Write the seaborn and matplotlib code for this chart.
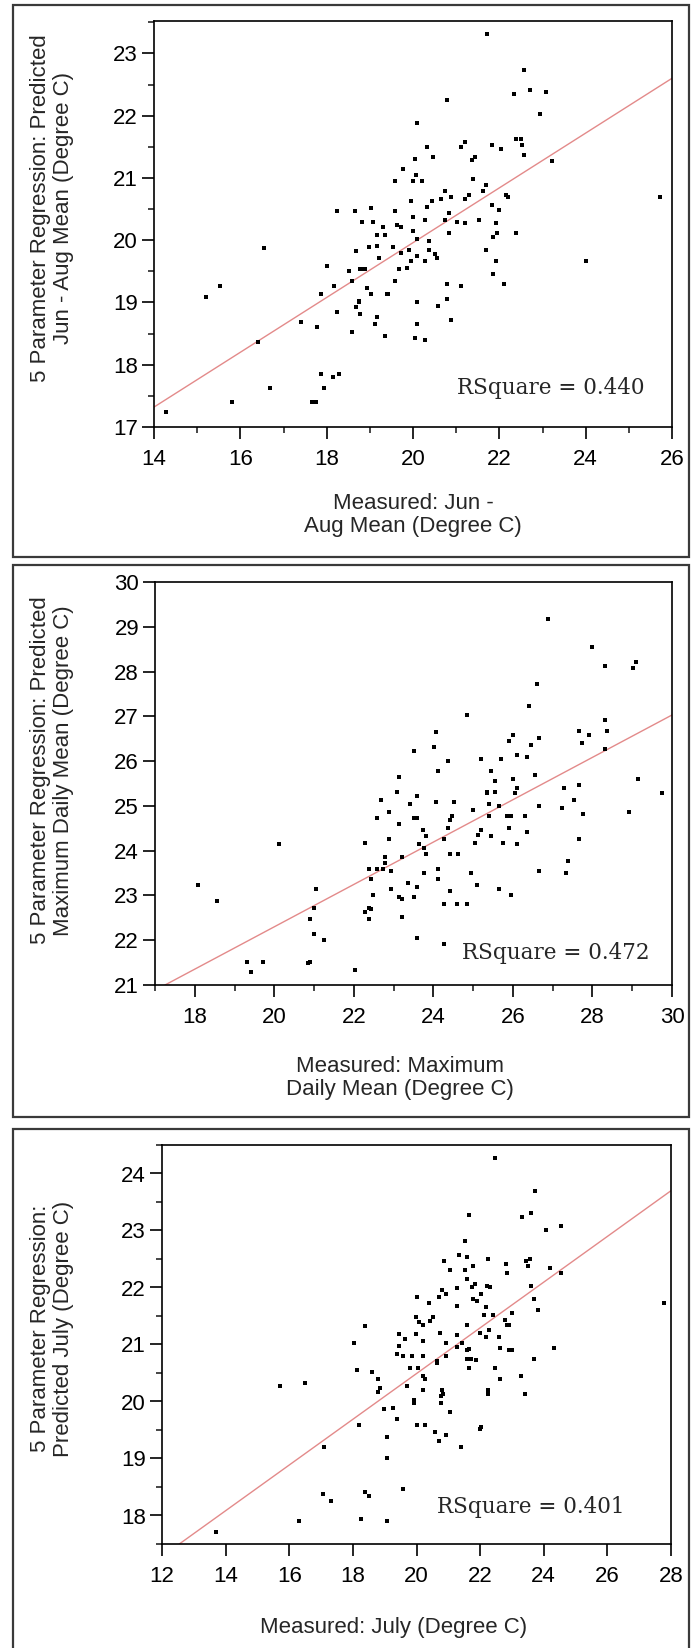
import pandas as pd
import matplotlib.pyplot as plt
import matplotlib.patches as patches
from matplotlib.ticker import MultipleLocator
import seaborn as sns

# ---- Panel 1: Jun - Aug mean ----
jja_measured = [
    14.27, 15.20, 15.53, 16.55, 15.81, 16.42, 16.69, 17.40, 17.77, 17.86, 18.00, 17.67,
    17.76, 17.86, 17.94, 18.14, 18.28, 18.18, 18.23, 18.23, 18.51, 18.59, 18.59, 18.65,
    18.69, 18.69, 18.74, 18.74, 18.78, 18.77, 18.83, 18.89, 18.83, 18.93, 18.98, 19.02,
    19.02, 19.07, 19.12, 19.16, 19.16, 19.16, 19.21, 19.30, 19.35, 19.35, 19.39, 19.43,
    19.54, 19.58, 19.58, 19.58, 19.63, 19.72, 19.67, 19.72, 19.77, 19.86, 19.91, 19.96,
    19.96, 20.00, 20.00, 20.00, 20.05, 20.05, 20.08, 20.10, 20.10, 20.10, 20.10, 20.10,
    20.20, 20.33, 20.47, 20.27, 20.33, 20.43, 20.28, 20.37, 20.37, 20.50, 20.56, 20.28,
    20.57, 20.79, 20.79, 20.88, 21.11, 20.79, 20.65, 20.74, 20.88, 20.74, 20.83, 20.83,
    21.02, 21.20, 21.20, 21.30, 21.11, 21.20, 21.36, 21.43, 21.39, 21.53, 21.62, 21.68,
    21.68, 21.72, 21.82, 21.82, 22.00, 21.92, 21.95, 21.86, 21.92, 21.86, 22.10, 22.15,
    22.19, 22.05, 22.33, 22.38, 22.38, 22.51, 22.53, 22.57, 22.57, 22.71, 23.08, 22.94,
    23.22, 24.01, 25.73]
jja_predicted = [
    17.24, 19.08, 19.27, 19.88, 17.40, 18.37, 17.62, 18.69, 18.60, 19.14, 19.59, 17.40,
    17.40, 17.85, 17.62, 17.81, 17.85, 19.27, 18.85, 20.47, 19.50, 19.34, 18.53, 20.47,
    19.82, 18.92, 19.00, 19.03, 18.82, 19.53, 19.53, 19.53, 20.30, 19.24, 19.89, 20.51,
    19.14, 20.30, 18.66, 18.76, 20.08, 19.91, 19.72, 20.21, 20.08, 18.46, 19.14, 19.14,
    19.89, 20.47, 20.95, 19.34, 20.24, 20.21, 19.53, 19.79, 21.15, 19.56, 19.85, 20.63,
    19.66, 20.37, 20.95, 20.14, 21.31, 18.43, 21.05, 19.00, 19.75, 20.02, 21.88, 18.66,
    20.95, 21.50, 21.34, 20.33, 20.54, 20.63, 19.66, 19.98, 19.85, 19.78, 19.72, 18.40,
    18.94, 19.30, 19.05, 18.72, 19.27, 22.25, 20.66, 20.79, 20.70, 20.33, 20.43, 20.11,
    20.30, 20.27, 20.66, 20.72, 21.50, 21.57, 21.28, 21.34, 20.98, 20.33, 20.79, 20.88,
    19.85, 23.31, 21.53, 20.56, 20.49, 20.27, 20.11, 20.05, 19.66, 19.46, 19.30, 20.72,
    20.70, 21.47, 22.35, 20.11, 21.63, 21.63, 21.53, 21.37, 22.73, 22.41, 22.38, 22.02,
    21.27, 19.66, 20.70]
jja_fit = (11.16, 0.440)  # intercept, slope

# ---- Panel 2: maximum daily mean ----
max_measured = [
    18.09, 18.55, 19.31, 19.72, 19.41, 20.13, 20.90, 20.84, 20.90, 21.00, 21.00, 21.05,
    21.26, 22.03, 22.28, 22.28, 22.38, 22.43, 22.38, 22.38, 22.43, 22.48, 22.58, 22.74,
    22.58, 22.68, 22.78, 22.78, 22.89, 22.89, 22.94, 22.94, 23.09, 23.14, 23.14, 23.14,
    23.20, 23.20, 23.20, 23.35, 23.40, 23.50, 23.58, 23.51, 23.50, 23.60, 23.60, 23.60,
    23.65, 24.02, 24.07, 24.12, 24.07, 23.75, 23.82, 23.76, 23.81, 23.76, 24.12, 24.12,
    24.27, 24.27, 24.59, 24.84, 24.27, 24.37, 24.37, 24.41, 24.48, 24.52, 24.43, 24.63,
    24.43, 24.84, 24.94, 24.99, 25.05, 25.10, 25.13, 25.19, 25.19, 25.34, 25.36, 25.39,
    25.39, 25.44, 25.44, 25.55, 25.55, 25.66, 25.66, 25.70, 25.76, 25.84, 25.94, 25.90,
    25.90, 25.95, 26.00, 26.00, 26.06, 26.10, 26.10, 26.10, 26.30, 26.35, 26.35, 26.41,
    26.46, 26.56, 26.61, 26.66, 26.66, 26.66, 26.89, 27.24, 27.29, 27.39, 27.34, 27.54,
    27.65, 27.65, 27.65, 27.74, 27.75, 27.91, 28.00, 28.32, 28.32, 28.37, 28.32, 28.93,
    29.03, 29.09, 29.14, 29.75]
max_predicted = [
    23.23, 22.88, 21.51, 21.51, 21.28, 24.14, 21.52, 21.49, 22.47, 22.15, 22.73, 23.14,
    22.01, 21.33, 24.18, 22.64, 22.73, 22.69, 22.47, 23.60, 23.37, 23.01, 23.60, 23.60,
    24.73, 25.14, 23.86, 23.73, 24.86, 24.27, 23.55, 23.14, 25.32, 25.64, 24.59, 22.96,
    22.92, 23.86, 22.51, 23.28, 25.05, 24.73, 24.73, 26.23, 22.96, 25.23, 23.19, 22.06,
    24.14, 26.32, 26.64, 25.78, 25.09, 24.46, 24.33, 24.05, 23.92, 23.51, 23.60, 23.37,
    24.27, 22.82, 22.82, 22.82, 21.92, 24.50, 26.00, 24.68, 24.78, 25.09, 23.92, 23.92,
    23.10, 27.04, 23.51, 24.90, 24.18, 23.23, 24.36, 24.46, 26.04, 25.32, 25.29, 25.05,
    24.78, 25.78, 24.33, 25.55, 25.32, 25.00, 23.14, 26.04, 24.18, 24.78, 24.78, 24.50,
    26.45, 23.01, 25.60, 26.59, 25.28, 25.41, 26.13, 24.14, 24.78, 26.09, 24.42, 27.23,
    26.36, 25.69, 27.73, 25.00, 26.51, 23.55, 29.17, 24.96, 25.41, 23.78, 23.51, 25.14,
    26.68, 25.46, 24.27, 26.41, 24.82, 26.59, 28.54, 26.91, 28.13, 26.68, 26.28, 24.87,
    28.08, 28.22, 25.59, 25.28]
max_fit = (12.84, 0.473)

# ---- Panel 3: July ----
jul_measured = [
    13.71, 15.70, 16.51, 16.31, 17.10, 17.05, 17.32, 18.05, 18.12, 18.19, 18.24, 18.38,
    18.52, 18.39, 18.59, 18.79, 18.85, 18.79, 18.99, 19.06, 19.06, 19.06, 19.26, 19.39,
    19.39, 19.45, 19.45, 19.59, 19.65, 19.59, 19.85, 19.71, 19.78, 19.99, 19.99, 20.03,
    19.92, 19.92, 20.03, 20.06, 20.09, 22.47, 23.73, 21.66, 23.33, 23.60, 24.07, 24.54,
    21.53, 20.87, 21.34, 21.60, 21.06, 21.53, 21.79, 22.26, 22.80, 22.86, 23.44, 23.57,
    23.50, 24.21, 24.54, 21.60, 21.74, 21.84, 22.23, 22.32, 23.59, 20.80, 20.93, 20.72,
    21.27, 21.77, 21.90, 22.04, 20.39, 21.28, 22.19, 22.12, 22.40, 22.99, 23.68, 23.81,
    27.77, 20.22, 20.43, 20.51, 21.60, 22.78, 22.84, 22.92, 20.19, 20.74, 20.93, 21.27,
    21.27, 21.42, 22.00, 22.20, 22.28, 22.60, 22.64, 22.92, 22.99, 24.33, 20.19, 20.66,
    20.66, 20.92, 21.60, 21.66, 21.60, 21.71, 21.87, 21.66, 22.47, 22.61, 23.28, 23.68,
    20.19, 20.27, 20.19, 20.80, 20.82, 20.77, 20.77, 21.04, 22.25, 22.25, 23.40, 20.27,
    20.59, 20.72, 20.93, 21.40, 21.99, 22.04]
jul_predicted = [
    17.71, 20.28, 20.32, 17.91, 19.20, 18.38, 18.26, 21.02, 20.55, 19.58, 17.94, 18.41,
    18.34, 21.33, 20.52, 20.39, 20.24, 20.17, 19.86, 19.38, 19.00, 17.91, 19.89, 20.83,
    19.70, 20.98, 21.18, 18.46, 21.10, 20.79, 20.79, 20.28, 20.59, 21.18, 21.49, 21.84,
    20.03, 19.98, 19.58, 20.59, 21.40, 24.28, 23.70, 23.27, 23.23, 23.31, 23.00, 23.08,
    22.81, 22.46, 22.57, 22.53, 22.31, 22.31, 22.38, 22.50, 22.42, 22.26, 22.47, 22.50,
    22.38, 22.34, 22.26, 22.15, 22.01, 22.06, 22.03, 22.00, 22.03, 21.96, 21.88, 21.84,
    21.99, 21.80, 21.77, 21.88, 21.72, 21.68, 21.65, 21.52, 21.52, 21.56, 21.80, 21.61,
    21.72, 21.35, 21.41, 21.49, 21.34, 21.43, 21.34, 21.34, 21.06, 21.21, 21.02, 21.17,
    20.95, 21.02, 21.21, 21.14, 21.25, 21.14, 20.94, 20.90, 20.90, 20.94, 20.79, 20.68,
    20.71, 20.79, 20.90, 20.92, 20.75, 20.75, 20.72, 20.59, 20.59, 20.39, 20.44, 20.75,
    20.44, 20.39, 20.20, 20.21, 20.14, 20.10, 19.97, 19.82, 20.20, 20.13, 20.13, 19.58,
    19.47, 19.31, 19.42, 19.20, 19.51, 19.55]
jul_fit = (12.47, 0.401)

rsquare = ['0.440', '0.472', '0.401']

sns.set_style('ticks')
plt.rcParams['font.family'] = ['Liberation Sans', 'DejaVu Sans']

W, H = 691, 1648
fig = plt.figure(figsize=(W / 100, H / 100), dpi=100)

# outer frames around each panel (pixel boxes: left, top, right, bottom)
for l, t, r, b in [(13, 5, 689, 557), (13, 565, 689, 1117), (13, 1129, 689, 1660)]:
    fig.add_artist(patches.Rectangle((l / W, 1 - b / H), (r - l) / W, (b - t) / H,
                                     transform=fig.transFigure, fill=False,
                                     edgecolor='#3a3a3a', linewidth=1.6))

panels = [
    dict(x=jja_measured, y=jja_predicted, fit=jja_fit, r2=rsquare[0],
         box=(154, 21, 672, 427), xlim=(14, 26), ylim=(17, 23.52),
         xmaj=2, xmin=1, ymaj=1, ymin=0.5,
         ylabel='5 Parameter Regression: Predicted\nJun - Aug Mean (Degree C)',
         xlabel='Measured: Jun -\nAug Mean (Degree C)',
         ylab_pos=(-0.197, 0.54), xlab_pos=(0.5, -0.217), r2_pos=(0.766, 0.096)),
    dict(x=max_measured, y=max_predicted, fit=max_fit, r2=rsquare[1],
         box=(155, 582, 672, 985), xlim=(17, 30), ylim=(21, 30),
         xmaj=2, xmin=1, ymaj=1, ymin=None,
         ylabel='5 Parameter Regression: Predicted\nMaximum Daily Mean (Degree C)',
         xlabel='Measured: Maximum\nDaily Mean (Degree C)',
         ylab_pos=(-0.199, 0.533), xlab_pos=(0.474, -0.231), r2_pos=(0.776, 0.079)),
    dict(x=jul_measured, y=jul_predicted, fit=jul_fit, r2=rsquare[2],
         box=(162, 1145, 671, 1544), xlim=(12, 28), ylim=(17.5, 24.5),
         xmaj=2, xmin=None, ymaj=1, ymin=0.5,
         ylabel='5 Parameter Regression:\nPredicted July (Degree C)',
         xlabel='Measured: July (Degree C)',
         ylab_pos=(-0.216, 0.54), xlab_pos=(0.454, -0.21), r2_pos=(0.725, 0.093)),
]

for p in panels:
    l, t, r, b = p['box']
    ax = fig.add_axes([l / W, 1 - b / H, (r - l) / W, (b - t) / H])
    df = pd.DataFrame({'measured': p['x'], 'predicted': p['y']})
    sns.scatterplot(data=df, x='measured', y='predicted', ax=ax, color='black',
                    marker='s', s=10, linewidth=0, zorder=3)
    icpt, slope = p['fit']
    ax.axline((0, icpt), slope=slope, color='#e38a8a', linewidth=1.0, zorder=2)

    ax.set_xlim(*p['xlim'])
    ax.set_ylim(*p['ylim'])
    ax.xaxis.set_major_locator(MultipleLocator(p['xmaj']))
    ax.yaxis.set_major_locator(MultipleLocator(p['ymaj']))
    if p['xmin']:
        ax.xaxis.set_minor_locator(MultipleLocator(p['xmin']))
    if p['ymin']:
        ax.yaxis.set_minor_locator(MultipleLocator(p['ymin']))

    for s in ax.spines.values():
        s.set_visible(True)
        s.set_color('black')
        s.set_linewidth(1.2)
    ax.tick_params(which='major', length=8.5, width=1.2, labelsize=16, colors='black')
    ax.tick_params(which='minor', length=4.5, width=1.2)
    ax.tick_params(axis='x', which='major', pad=7)
    ax.tick_params(axis='y', which='major', pad=3)

    ax.set_xlabel(p['xlabel'], fontsize=16, linespacing=1.15)
    ax.set_ylabel(p['ylabel'], fontsize=16, linespacing=1.15)
    ax.xaxis.set_label_coords(*p['xlab_pos'])
    ax.yaxis.set_label_coords(*p['ylab_pos'])
    ax.xaxis.label.set_va('center')
    ax.yaxis.label.set_va('center')

    ax.text(*p['r2_pos'], 'RSquare = ' + p['r2'], transform=ax.transAxes,
            ha='center', va='center', fontsize=15.5, family='DejaVu Serif')

fig.savefig('out.png', dpi=100)
